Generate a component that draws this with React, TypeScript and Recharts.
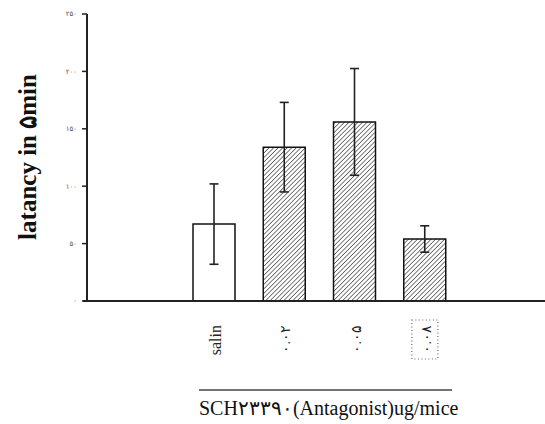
import React from "react";
import { BarChart, Bar, XAxis, YAxis, ErrorBar, Cell } from "recharts";

const categories = ["salin", "۰.۰۲", "۰.۰۵", "۰.۰۸"];
const latency = [67, 134, 156, 54];
const sem = [35, 39, 46.5, 11.5];
const yTicks = [0, 50, 100, 150, 200, 250];
const yTickLabels = ["۰", "۵۰", "۱۰۰", "۱۵۰", "۲۰۰", "۲۵۰"];

const data = categories.map((c, i) => ({ name: c, value: latency[i], se: sem[i] }));

const serif = "'Liberation Serif', 'Times New Roman', serif";

const XTick = (props: any) => {
  const { x, y, payload, index } = props;
  return (
    <g>
      {index === 3 && (
        <rect x={x - 13} y={y + 11} width={26} height={39} fill="none" stroke="#666" strokeWidth={1.2} strokeDasharray="1 2.5" />
      )}
      <text
        x={x + 1}
        y={y + 16}
        transform={`rotate(-90, ${x + 1}, ${y + 16})`}
        textAnchor="end"
        dy="0.35em"
        fontSize={index === 0 ? 16 : 14}
        fontFamily={serif}
        fill="#222"
      >
        {payload.value}
      </text>
    </g>
  );
};

const YTick = (props: any) => {
  const { x, y, payload } = props;
  const idx = yTicks.indexOf(payload.value);
  return (
    <text x={x} y={y} dy="0.35em" textAnchor="end" fontSize={7} fill="#555" fontFamily="'DejaVu Sans', sans-serif">
      {yTickLabels[idx]}
    </text>
  );
};

export default function App() {
  return (
    <div style={{ position: "fixed", left: 0, top: 0, width: 545, height: 424, background: "#fff", overflow: "hidden" }}>
      <BarChart
        width={545}
        height={424}
        data={data}
        margin={{ top: 14, right: 0, bottom: 0, left: 0 }}
        style={{ overflow: "visible" }}
      >
        <defs>
          <pattern id="hatch" patternUnits="userSpaceOnUse" width={3.2} height={3.2} patternTransform="rotate(45)">
            <rect width={3.2} height={3.2} fill="#fff" />
            <line x1={0} y1={0} x2={0} y2={3.2} stroke="#111" strokeWidth={1.1} />
          </pattern>
        </defs>
        <XAxis
          dataKey="name"
          height={123}
          tickLine={false}
          axisLine={{ stroke: "#222", strokeWidth: 2 }}
          padding={{ left: 92, right: 85 }}
          tick={<XTick />}
          interval={0}
          label={{
            content: () => (
              <g>
                <line x1={199} y1={390} x2={452} y2={390} stroke="#444" strokeWidth={1.5} />
                <text x={199} y={415} fontSize={20} fontFamily={serif} fill="#111">
                  SCH۲۳۳۹۰(Antagonist)ug/mice
                </text>
              </g>
            ),
          }}
        />
        <YAxis
          width={87}
          domain={[0, 250]}
          ticks={yTicks}
          tickSize={5}
          tickMargin={5}
          tickLine={{ stroke: "#222", strokeWidth: 1.5 }}
          axisLine={{ stroke: "#222", strokeWidth: 2 }}
          tick={<YTick />}
          label={{
            content: () => (
              <text
                x={36}
                y={157}
                transform="rotate(-90, 36, 157)"
                textAnchor="middle"
                fontSize={25}
                fontWeight="bold"
                fontFamily={serif}
                fill="#111"
              >
                latancy in ۵min
              </text>
            ),
          }}
        />
        <Bar dataKey="value" barSize={42} stroke="#111" strokeWidth={1.5} isAnimationActive={false}>
          {data.map((d, i) => (
            <Cell key={d.name} fill={i === 0 ? "#fff" : "url(#hatch)"} />
          ))}
          <ErrorBar dataKey="se" width={4.5} stroke="#222" strokeWidth={1.6} />
        </Bar>
      </BarChart>
      <div style={{ position: "absolute", left: 83, top: 300, width: 462, height: 2, background: "#222" }} />
    </div>
  );
}
